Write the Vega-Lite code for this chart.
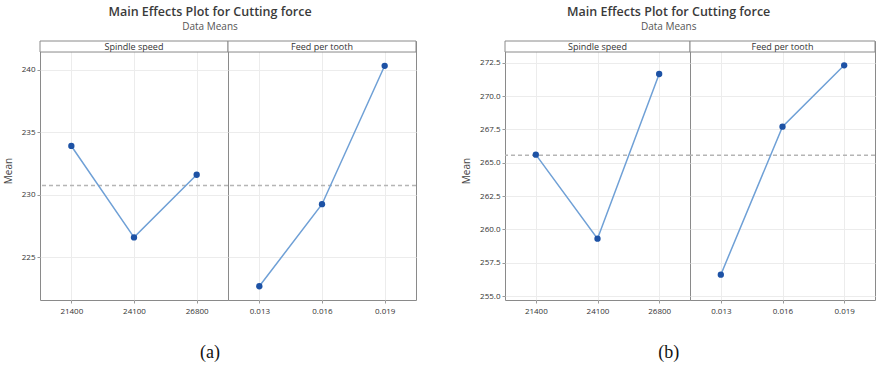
{
  "$schema": "https://vega.github.io/schema/vega-lite/v6.json",
  "background": "white",
  "padding": {"left": 2, "right": 0, "top": 5, "bottom": 5},
  "config": {
    "view": {"stroke": "#8a8a8a", "strokeWidth": 1},
    "font": "Open Sans",
    "axis": {"labelFont": "Open Sans", "labelFontSize": 8, "labelColor": "#333", "gridColor": "#ececec", "gridWidth": 1, "tickColor": "#999", "tickSize": 3, "domain": false, "titleFont": "Open Sans", "titleFontWeight": "normal", "titleColor": "#444", "titleFontSize": 10, "labelOverlap": false},
    "title": {"font": "Open Sans"}
  },
  "datasets": {
    "effects": [
      {"chart": "a", "factor": "Spindle speed", "level": "21400", "mean": 233.9},
      {"chart": "a", "factor": "Spindle speed", "level": "24100", "mean": 226.6},
      {"chart": "a", "factor": "Spindle speed", "level": "26800", "mean": 231.6},
      {"chart": "a", "factor": "Feed per tooth", "level": "0.013", "mean": 222.7},
      {"chart": "a", "factor": "Feed per tooth", "level": "0.016", "mean": 229.25},
      {"chart": "a", "factor": "Feed per tooth", "level": "0.019", "mean": 240.3},
      {"chart": "b", "factor": "Spindle speed", "level": "21400", "mean": 265.6},
      {"chart": "b", "factor": "Spindle speed", "level": "24100", "mean": 259.3},
      {"chart": "b", "factor": "Spindle speed", "level": "26800", "mean": 271.65},
      {"chart": "b", "factor": "Feed per tooth", "level": "0.013", "mean": 256.6},
      {"chart": "b", "factor": "Feed per tooth", "level": "0.016", "mean": 267.7},
      {"chart": "b", "factor": "Feed per tooth", "level": "0.019", "mean": 272.3}
    ],
    "grand": [
      {"chart": "a", "mean": 230.75},
      {"chart": "b", "mean": 265.55}
    ],
    "strips": [
      {"chart": "a", "factor": "Spindle speed"},
      {"chart": "a", "factor": "Feed per tooth"},
      {"chart": "b", "factor": "Spindle speed"},
      {"chart": "b", "factor": "Feed per tooth"}
    ]
  },
  "hconcat": [
    {
      "title": {"text": "Main Effects Plot for Cutting force", "subtitle": "Data Means", "anchor": "middle", "fontSize": 12.5, "fontWeight": 600, "color": "#3a3a3a", "subtitleFontSize": 10, "subtitleColor": "#555", "subtitlePadding": 4, "offset": 8},
      "vconcat": [
        {
          "title": {"text": "(a)", "orient": "bottom", "anchor": "middle", "font": "Liberation Serif", "fontSize": 18, "fontWeight": "normal", "color": "#111", "offset": 28},
          "spacing": 0,
          "bounds": "flush",
          "hconcat": [
            {
              "width": 188, "height": 259,
              "layer": [
                {"data": {"name": "grand"}, "transform": [{"filter": "datum.chart == 'a'"}], "mark": {"type": "rule", "color": "#b5b5b5", "strokeDash": [4, 3], "strokeWidth": 1.5}, "encoding": {"y": {"field": "mean", "type": "quantitative", "scale": {"domain": [221.6, 242.28], "nice": false, "zero": false}, "axis": {"title": "Mean", "values": [225, 230, 235, 240], "titlePadding": 8}}}},
                {"data": {"name": "effects"}, "transform": [{"filter": "datum.chart == 'a' && datum.factor == 'Spindle speed'"}], "mark": {"type": "line", "color": "#6fa0d6", "strokeWidth": 1.5}, "encoding": {"x": {"field": "level", "type": "ordinal", "axis": {"title": null, "labelAngle": 0, "grid": true, "labelPadding": 4}}, "y": {"field": "mean", "type": "quantitative", "axis": {"title": "Mean", "values": [225, 230, 235, 240], "titlePadding": 8}}}},
                {"data": {"name": "effects"}, "transform": [{"filter": "datum.chart == 'a' && datum.factor == 'Spindle speed'"}], "mark": {"type": "point", "filled": true, "color": "#1d52a5", "size": 40, "opacity": 1}, "encoding": {"x": {"field": "level", "type": "ordinal"}, "y": {"field": "mean", "type": "quantitative", "axis": {"title": "Mean", "values": [225, 230, 235, 240], "titlePadding": 8}}}},
                {"data": {"name": "strips"}, "transform": [{"filter": "datum.chart == 'a' && datum.factor == 'Spindle speed'"}], "mark": {"type": "rect", "fill": "white", "stroke": "#8a8a8a", "strokeWidth": 1}, "encoding": {"y": {"datum": 241.4, "type": "quantitative", "axis": {"title": "Mean", "values": [225, 230, 235, 240], "titlePadding": 8}}, "y2": {"datum": 242.28}}},
                {"data": {"name": "strips"}, "transform": [{"filter": "datum.chart == 'a' && datum.factor == 'Spindle speed'"}], "mark": {"type": "text", "fontSize": 9, "color": "#333", "baseline": "middle"}, "encoding": {"y": {"datum": 241.84, "type": "quantitative", "axis": {"title": "Mean", "values": [225, 230, 235, 240], "titlePadding": 8}}, "text": {"field": "factor", "type": "nominal"}}}
              ]
            },
            {
              "width": 188, "height": 259,
              "layer": [
                {"data": {"name": "grand"}, "transform": [{"filter": "datum.chart == 'a'"}], "mark": {"type": "rule", "color": "#b5b5b5", "strokeDash": [4, 3], "strokeWidth": 1.5}, "encoding": {"y": {"field": "mean", "type": "quantitative", "scale": {"domain": [221.6, 242.28], "nice": false, "zero": false}, "axis": {"title": null, "values": [225, 230, 235, 240], "labels": false, "ticks": false}}}},
                {"data": {"name": "effects"}, "transform": [{"filter": "datum.chart == 'a' && datum.factor == 'Feed per tooth'"}], "mark": {"type": "line", "color": "#6fa0d6", "strokeWidth": 1.5}, "encoding": {"x": {"field": "level", "type": "ordinal", "axis": {"title": null, "labelAngle": 0, "grid": true, "labelPadding": 4}}, "y": {"field": "mean", "type": "quantitative", "axis": {"title": null, "values": [225, 230, 235, 240], "labels": false, "ticks": false}}}},
                {"data": {"name": "effects"}, "transform": [{"filter": "datum.chart == 'a' && datum.factor == 'Feed per tooth'"}], "mark": {"type": "point", "filled": true, "color": "#1d52a5", "size": 40, "opacity": 1}, "encoding": {"x": {"field": "level", "type": "ordinal"}, "y": {"field": "mean", "type": "quantitative", "axis": {"title": null, "values": [225, 230, 235, 240], "labels": false, "ticks": false}}}},
                {"data": {"name": "strips"}, "transform": [{"filter": "datum.chart == 'a' && datum.factor == 'Feed per tooth'"}], "mark": {"type": "rect", "fill": "white", "stroke": "#8a8a8a", "strokeWidth": 1}, "encoding": {"y": {"datum": 241.4, "type": "quantitative", "axis": {"title": null, "values": [225, 230, 235, 240], "labels": false, "ticks": false}}, "y2": {"datum": 242.28}}},
                {"data": {"name": "strips"}, "transform": [{"filter": "datum.chart == 'a' && datum.factor == 'Feed per tooth'"}], "mark": {"type": "text", "fontSize": 9, "color": "#333", "baseline": "middle"}, "encoding": {"y": {"datum": 241.84, "type": "quantitative", "axis": {"title": null, "values": [225, 230, 235, 240], "labels": false, "ticks": false}}, "text": {"field": "factor", "type": "nominal"}}}
              ]
            }
          ]
        }
      ]
    },
    {
      "title": {"text": "Main Effects Plot for Cutting force", "subtitle": "Data Means", "anchor": "middle", "fontSize": 12.5, "fontWeight": 600, "color": "#3a3a3a", "subtitleFontSize": 10, "subtitleColor": "#555", "subtitlePadding": 4, "offset": 8},
      "vconcat": [
        {
          "title": {"text": "(b)", "orient": "bottom", "anchor": "middle", "font": "Liberation Serif", "fontSize": 18, "fontWeight": "normal", "color": "#111", "offset": 28},
          "spacing": 0,
          "bounds": "flush",
          "hconcat": [
            {
              "width": 185, "height": 259,
              "layer": [
                {"data": {"name": "grand"}, "transform": [{"filter": "datum.chart == 'b'"}], "mark": {"type": "rule", "color": "#b5b5b5", "strokeDash": [4, 3], "strokeWidth": 1.5}, "encoding": {"y": {"field": "mean", "type": "quantitative", "scale": {"domain": [254.7, 274.125], "nice": false, "zero": false}, "axis": {"title": "Mean", "values": [255, 257.5, 260, 262.5, 265, 267.5, 270, 272.5], "format": ".1f", "titlePadding": 8}}}},
                {"data": {"name": "effects"}, "transform": [{"filter": "datum.chart == 'b' && datum.factor == 'Spindle speed'"}], "mark": {"type": "line", "color": "#6fa0d6", "strokeWidth": 1.5}, "encoding": {"x": {"field": "level", "type": "ordinal", "axis": {"title": null, "labelAngle": 0, "grid": true, "labelPadding": 4}}, "y": {"field": "mean", "type": "quantitative", "axis": {"title": "Mean", "values": [255, 257.5, 260, 262.5, 265, 267.5, 270, 272.5], "format": ".1f", "titlePadding": 8}}}},
                {"data": {"name": "effects"}, "transform": [{"filter": "datum.chart == 'b' && datum.factor == 'Spindle speed'"}], "mark": {"type": "point", "filled": true, "color": "#1d52a5", "size": 40, "opacity": 1}, "encoding": {"x": {"field": "level", "type": "ordinal"}, "y": {"field": "mean", "type": "quantitative", "axis": {"title": "Mean", "values": [255, 257.5, 260, 262.5, 265, 267.5, 270, 272.5], "format": ".1f", "titlePadding": 8}}}},
                {"data": {"name": "strips"}, "transform": [{"filter": "datum.chart == 'b' && datum.factor == 'Spindle speed'"}], "mark": {"type": "rect", "fill": "white", "stroke": "#8a8a8a", "strokeWidth": 1}, "encoding": {"y": {"datum": 273.3, "type": "quantitative", "axis": {"title": "Mean", "values": [255, 257.5, 260, 262.5, 265, 267.5, 270, 272.5], "format": ".1f", "titlePadding": 8}}, "y2": {"datum": 274.125}}},
                {"data": {"name": "strips"}, "transform": [{"filter": "datum.chart == 'b' && datum.factor == 'Spindle speed'"}], "mark": {"type": "text", "fontSize": 9, "color": "#333", "baseline": "middle"}, "encoding": {"y": {"datum": 273.71, "type": "quantitative", "axis": {"title": "Mean", "values": [255, 257.5, 260, 262.5, 265, 267.5, 270, 272.5], "format": ".1f", "titlePadding": 8}}, "text": {"field": "factor", "type": "nominal"}}}
              ]
            },
            {
              "width": 185, "height": 259,
              "layer": [
                {"data": {"name": "grand"}, "transform": [{"filter": "datum.chart == 'b'"}], "mark": {"type": "rule", "color": "#b5b5b5", "strokeDash": [4, 3], "strokeWidth": 1.5}, "encoding": {"y": {"field": "mean", "type": "quantitative", "scale": {"domain": [254.7, 274.125], "nice": false, "zero": false}, "axis": {"title": null, "values": [255, 257.5, 260, 262.5, 265, 267.5, 270, 272.5], "labels": false, "ticks": false}}}},
                {"data": {"name": "effects"}, "transform": [{"filter": "datum.chart == 'b' && datum.factor == 'Feed per tooth'"}], "mark": {"type": "line", "color": "#6fa0d6", "strokeWidth": 1.5}, "encoding": {"x": {"field": "level", "type": "ordinal", "axis": {"title": null, "labelAngle": 0, "grid": true, "labelPadding": 4}}, "y": {"field": "mean", "type": "quantitative", "axis": {"title": null, "values": [255, 257.5, 260, 262.5, 265, 267.5, 270, 272.5], "labels": false, "ticks": false}}}},
                {"data": {"name": "effects"}, "transform": [{"filter": "datum.chart == 'b' && datum.factor == 'Feed per tooth'"}], "mark": {"type": "point", "filled": true, "color": "#1d52a5", "size": 40, "opacity": 1}, "encoding": {"x": {"field": "level", "type": "ordinal"}, "y": {"field": "mean", "type": "quantitative", "axis": {"title": null, "values": [255, 257.5, 260, 262.5, 265, 267.5, 270, 272.5], "labels": false, "ticks": false}}}},
                {"data": {"name": "strips"}, "transform": [{"filter": "datum.chart == 'b' && datum.factor == 'Feed per tooth'"}], "mark": {"type": "rect", "fill": "white", "stroke": "#8a8a8a", "strokeWidth": 1}, "encoding": {"y": {"datum": 273.3, "type": "quantitative", "axis": {"title": null, "values": [255, 257.5, 260, 262.5, 265, 267.5, 270, 272.5], "labels": false, "ticks": false}}, "y2": {"datum": 274.125}}},
                {"data": {"name": "strips"}, "transform": [{"filter": "datum.chart == 'b' && datum.factor == 'Feed per tooth'"}], "mark": {"type": "text", "fontSize": 9, "color": "#333", "baseline": "middle"}, "encoding": {"y": {"datum": 273.71, "type": "quantitative", "axis": {"title": null, "values": [255, 257.5, 260, 262.5, 265, 267.5, 270, 272.5], "labels": false, "ticks": false}}, "text": {"field": "factor", "type": "nominal"}}}
              ]
            }
          ]
        }
      ]
    }
  ],
  "spacing": 43
}
